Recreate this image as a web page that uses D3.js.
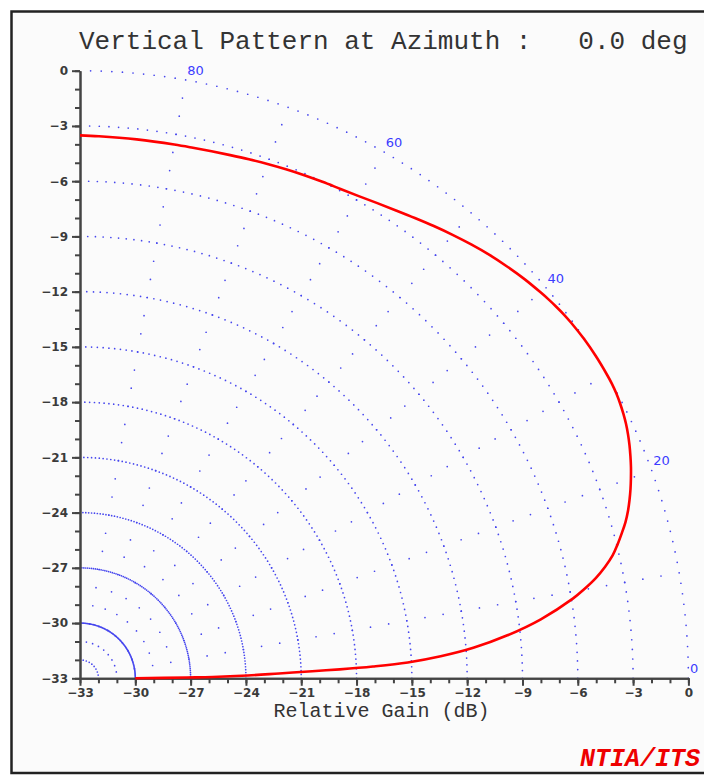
<!DOCTYPE html>
<html><head><meta charset="utf-8">
<script src="https://cdn.jsdelivr.net/npm/d3@7"></script>
<style>html,body{margin:0;padding:0;background:#fff;} svg{display:block}</style>
</head><body><svg id="c" width="704" height="775"></svg>
<script>
// ---- data ----
const elevationDeg = [0, 0.43, 0.56, 0.96, 1.40, 1.75, 1.98, 2.31, 2.77, 3.50, 4.44, 5.75, 7.31, 9.22,
  10, 11, 12, 13, 14, 15, 16, 17, 18, 19, 20, 21, 22, 23, 24, 25, 26, 27, 28, 29, 30, 32, 34, 36, 37, 38, 39, 40,
  42, 44, 46, 48, 50, 52, 54, 56, 58, 60, 62, 64, 66, 68, 70, 72, 74, 76, 78, 80, 84, 88, 90];
const relativeGainDb = [-30.0, -27.2, -25.8, -23.9, -22.2, -20.4, -18.9, -17.1, -15.2, -13.4, -11.6, -9.7, -7.8, -5.9,
  -5.25, -4.5, -3.88, -3.35, -2.95, -2.58, -2.22, -1.92, -1.66, -1.42, -1.2, -0.99, -0.8, -0.62, -0.46, -0.32, -0.21, -0.12, -0.05, -0.01, 0, 0, -0.03, -0.1, -0.15, -0.22, -0.3, -0.39,
  -0.58, -0.8, -1.03, -1.29, -1.56, -1.83, -2.1, -2.35, -2.57, -2.76, -2.9, -3.0, -3.09, -3.18, -3.27, -3.36, -3.44, -3.5, -3.54, -3.56, -3.57, -3.54, -3.51];
const gainTicks = [-33, -30, -27, -24, -21, -18, -15, -12, -9, -6, -3, 0];
const minorTicks = d3.range(-33, 1, 1);
const ringGains = [-30, -27, -24, -21, -18, -15, -12, -9, -6, -3, 0];
const spokeAngles = [10, 20, 30, 40, 50, 60, 70, 80];
const spokeSteps = d3.range(1, 33, 1);
const angleLabels = [0, 20, 40, 60, 80];
const titleText = "Vertical Pattern at Azimuth :   0.0 deg";
const xLabel = "Relative Gain (dB)";
const brand = "NTIA/ITS";

// ---- drawing ----
const svg = d3.select("#c");
const x = d3.scaleLinear().domain([-33, 0]).range([80, 688.4]);
const y = d3.scaleLinear().domain([-33, 0]).range([678.3, 70.7]);
const polar = (g, deg) => {
  const r = g + 33, a = deg * Math.PI / 180;
  return [x(-33 + r * Math.cos(a)), y(-33 + r * Math.sin(a))];
};

svg.append("rect").attr("x", 11.5).attr("y", 11.5).attr("width", 730).attr("height", 761.5)
  .attr("fill", "#fbfbfb").attr("stroke", "#222").attr("stroke-width", 2.5);

svg.append("text").attr("x", 79).attr("y", 49)
  .style("white-space", "pre").attr("font-family", "'Liberation Mono', 'Courier New', monospace")
  .attr("font-size", 26).attr("fill", "#333").text(titleText);

// grid dots: rings at 1 degree steps, spokes every 10 degrees at 1 dB steps
const dots = [];
ringGains.forEach(g => { for (let d = 0; d < 90; d += 1) dots.push(polar(g, d)); });
spokeAngles.forEach(a => spokeSteps.forEach(s => dots.push(polar(-33 + s, a))));
svg.append("g").selectAll("circle").data(dots).join("circle")
  .attr("cx", d => d[0]).attr("cy", d => d[1]).attr("r", 0.85).attr("fill", "#4646ee");

// angle labels
svg.append("g").selectAll("text").data(angleLabels).join("text")
  .attr("x", d => polar(0, d)[0] + 1.5).attr("y", d => polar(0, d)[1] - 5)
  .attr("font-family", "'DejaVu Sans', Verdana, sans-serif").attr("font-size", 13)
  .attr("fill", "#3c3cff").text(d => d);

// axes
const axisColor = "#444";
const gxMinor = svg.append("g").attr("transform", `translate(0,${y(-33)})`)
  .call(d3.axisBottom(x).tickValues(minorTicks).tickSize(5).tickSizeOuter(0).tickFormat(""));
const gx = svg.append("g").attr("transform", `translate(0,${y(-33)})`)
  .call(d3.axisBottom(x).tickValues(gainTicks).tickSize(7.5).tickSizeOuter(0).tickPadding(3));
const gyMinor = svg.append("g").attr("transform", `translate(${x(-33)},0)`)
  .call(d3.axisLeft(y).tickValues(minorTicks).tickSize(5).tickSizeOuter(0).tickFormat(""));
const gy = svg.append("g").attr("transform", `translate(${x(-33)},0)`)
  .call(d3.axisLeft(y).tickValues(gainTicks).tickSize(8).tickSizeOuter(0).tickPadding(4));
[gxMinor, gx, gyMinor, gy].forEach(g => {
  g.selectAll("path,line").attr("stroke", axisColor).attr("stroke-width", 2);
  g.selectAll("text").attr("fill", "#3a3a3a").attr("font-family", "'DejaVu Sans', Verdana, sans-serif")
    .attr("font-size", 12).attr("font-weight", "bold");
});

// pattern curve
const pts = elevationDeg.map((a, i) => polar(relativeGainDb[i], a));
svg.append("path").attr("d", d3.line().curve(d3.curveCatmullRom.alpha(0.5))(pts))
  .attr("fill", "none").attr("stroke", "#ff0000").attr("stroke-width", 2.6);

svg.append("text").attr("x", 381.5).attr("y", 717).attr("text-anchor", "middle")
  .attr("font-family", "'Liberation Mono', 'Courier New', monospace").attr("font-size", 20)
  .attr("fill", "#333").text(xLabel);

svg.append("text").attr("x", 580).attr("y", 766)
  .attr("font-family", "'Liberation Mono', 'Courier New', monospace").attr("font-size", 25)
  .attr("font-weight", "bold").attr("font-style", "italic").attr("fill", "#ee0000").text(brand);
</script></body></html>
